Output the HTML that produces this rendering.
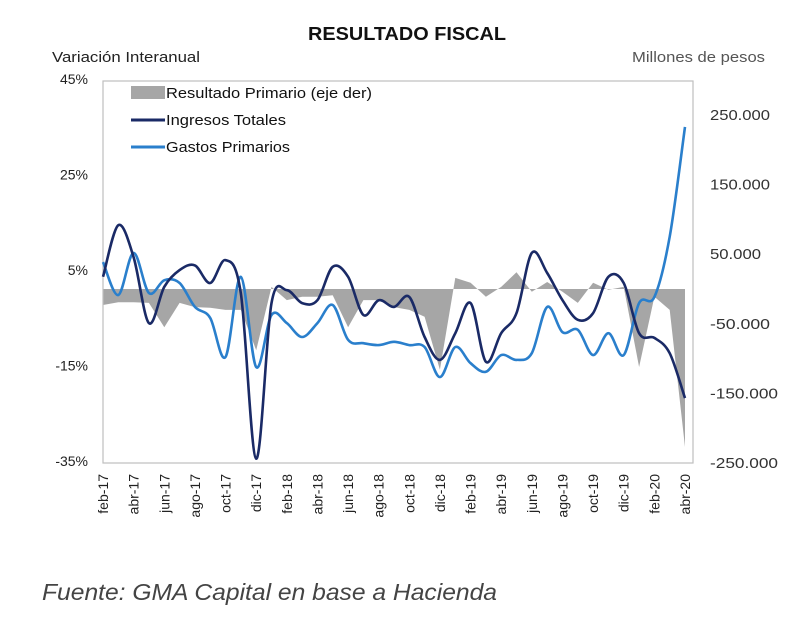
<!DOCTYPE html>
<html><head><meta charset="utf-8"><style>
body{margin:0;background:#fff;width:800px;height:617px;overflow:hidden;font-family:"Liberation Sans",sans-serif;}
</style></head><body>
<svg width="800" height="617" viewBox="0 0 800 617">
<text x="407" y="40" text-anchor="middle" font-size="18" font-weight="bold" fill="#111" textLength="198" lengthAdjust="spacingAndGlyphs">RESULTADO FISCAL</text>
<text x="52" y="62" font-size="15" fill="#222" textLength="148" lengthAdjust="spacingAndGlyphs">Variación Interanual</text>
<text x="765" y="62" text-anchor="end" font-size="15" fill="#555" textLength="133" lengthAdjust="spacingAndGlyphs">Millones de pesos</text>
<g id="plot"></g>
<text x="42" y="600" font-size="23" font-style="italic" fill="#444" textLength="455" lengthAdjust="spacingAndGlyphs">Fuente: GMA Capital en base a Hacienda</text>
</svg>
<script>
const months=["feb-17","mar-17","abr-17","may-17","jun-17","jul-17","ago-17","sep-17","oct-17","nov-17","dic-17","ene-18","feb-18","mar-18","abr-18","may-18","jun-18","jul-18","ago-18","sep-18","oct-18","nov-18","dic-18","ene-19","feb-19","mar-19","abr-19","may-19","jun-19","jul-19","ago-19","sep-19","oct-19","nov-19","dic-19","ene-20","feb-20","mar-20","abr-20"];
const ingresos=[3.6,14.4,7.7,-6.1,1.5,5,6,2.3,7.1,0.2,-34.5,-1.9,0.8,-1.9,-1.3,5.7,3.6,-4.4,-1.3,-2.7,-0.6,-9,-13.8,-8.2,-1.9,-14.2,-8.2,-4,8.6,4.4,-1.3,-5.4,-4,3.6,2.3,-8.2,-9.2,-12.4,-21.8];
const gastos=[6.7,-0.2,8.6,0.2,2.9,2.3,-2.7,-5,-13.2,3.6,-15.3,-4.4,-6.1,-9,-6.1,-2.3,-9.6,-10.3,-10.7,-10,-10.7,-11.1,-17.4,-11.1,-14.5,-16.3,-12.8,-13.8,-12.4,-2.7,-8,-7.5,-12.8,-8.2,-12.8,-1.9,-0.6,12,35];
const resultado=[-23000,-19000,-19000,-20000,-55000,-20000,-26000,-27000,-30000,-30000,-88000,3000,-16000,-11000,-11000,-9000,-55000,-16000,-16000,-26000,-30000,-40000,-116000,16000,9000,-11000,3000,24000,-4000,10000,-4000,-20000,9000,-1000,3000,-112000,-11000,-30000,-227000];
const leftTicks=[45,25,5,-15,-35];
const rightTicks=[250000,150000,50000,-50000,-150000,-250000];

const NS="http://www.w3.org/2000/svg";
const g=document.getElementById('plot');
const X0=103,X1=685,L=103,R=693,T=81,B=463;
const x=i=>X0+(X1-X0)*i/(months.length-1);
const yL=v=>294-v*4.775;
const yR=v=>289-v*0.000696;
function mk(tag,attrs,parent){const e=document.createElementNS(NS,tag);for(const k in attrs)e.setAttribute(k,attrs[k]);(parent||g).appendChild(e);return e;}

let d=`M${x(0)},${yR(0)}`;
resultado.forEach((v,i)=>d+=` L${x(i).toFixed(1)},${yR(v).toFixed(1)}`);
d+=` L${x(months.length-1)},${yR(0)} Z`;
const area=mk('path',{d:d,fill:'#a6a6a6'});



const fr=mk('rect',{x:L,y:T,width:R-L,height:B-T,fill:'none',stroke:'#bfbfbf','stroke-width':1.2});



function smooth(arr){
  const p=arr.map((v,i)=>[x(i),yL(v)]);
  let s=`M${p[0][0]},${p[0][1]}`;
  for(let i=0;i<p.length-1;i++){
    const p0=p[i-1]||p[i],p1=p[i],p2=p[i+1],p3=p[i+2]||p2;
    const c1=[p1[0]+(p2[0]-p0[0])/6,p1[1]+(p2[1]-p0[1])/6];
    const c2=[p2[0]-(p3[0]-p1[0])/6,p2[1]-(p3[1]-p1[1])/6];
    s+=` C${c1[0].toFixed(1)},${c1[1].toFixed(1)} ${c2[0].toFixed(1)},${c2[1].toFixed(1)} ${p2[0].toFixed(1)},${p2[1].toFixed(1)}`;
  }
  return s;
}
const lg=mk('path',{d:smooth(gastos),fill:'none',stroke:'#2a7fcc','stroke-width':2.6});


const li=mk('path',{d:smooth(ingresos),fill:'none',stroke:'#1a2a66','stroke-width':2.6});



leftTicks.forEach(v=>{
  const t=mk('text',{x:88,y:yL(v)+5,'text-anchor':'end','font-size':14,fill:'#222'});
  t.textContent=v+'%';
  
  
});
rightTicks.forEach(v=>{
  const s=(v/1000).toFixed(0)+'.000';
  const t=mk('text',{x:710,y:yR(v)+5,'font-size':15,fill:'#333',textLength:(s.length*8.5).toFixed(0),lengthAdjust:'spacingAndGlyphs'});
  t.textContent=s;
  
  
});
months.forEach((m,i)=>{
  if(i%2)return;
  const t=mk('text',{transform:`translate(${x(i)+5},474) rotate(-90)`,'text-anchor':'end','font-size':14,fill:'#222'});
  t.textContent=m;
  
  
});

const leg=[['Resultado Primario (eje der)','area','#a6a6a6',206],['Ingresos Totales','line','#1a2a66',120],['Gastos Primarios','line','#2a7fcc',124]];
leg.forEach((e,i)=>{
  const y=93+i*27;
  if(e[1]=='area'){const r=mk('rect',{x:131,y:y-7,width:34,height:13,fill:e[2]});}
  else{const l=mk('line',{x1:131,x2:165,y1:y,y2:y,stroke:e[2],'stroke-width':3});}
  const t=mk('text',{x:166,y:y+5,'font-size':15,fill:'#111',textLength:e[3],lengthAdjust:'spacingAndGlyphs'});
  t.textContent=e[0];
  
  
});
</script>
</body></html>
